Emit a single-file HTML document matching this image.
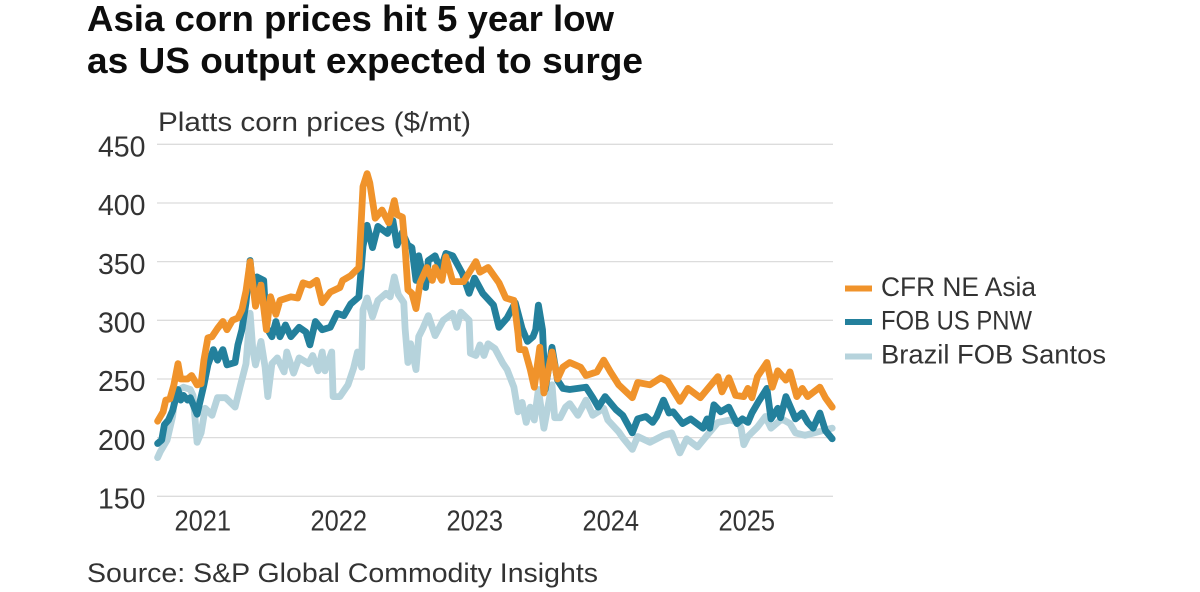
<!DOCTYPE html>
<html lang="en">
<head>
<meta charset="utf-8">
<title>Asia corn prices chart</title>
<style>
html,body{margin:0;padding:0;background:#fff;width:1200px;height:592px;overflow:hidden}
svg{display:block}
text{font-family:"Liberation Sans",sans-serif;fill:#333}
</style>
</head>
<body>
<svg id="chart" width="1200" height="592" viewBox="0 0 1200 592" xmlns="http://www.w3.org/2000/svg">
  <rect width="1200" height="592" fill="#fff"/>
  <text x="87" y="31" font-size="36" font-weight="700" style="fill:#0d0d0d" textLength="527" lengthAdjust="spacingAndGlyphs">Asia corn prices hit 5 year low</text>
  <text x="87" y="73" font-size="36" font-weight="700" style="fill:#0d0d0d" textLength="556" lengthAdjust="spacingAndGlyphs">as US output expected to surge</text>
  <text x="158" y="131" font-size="27" textLength="313" lengthAdjust="spacingAndGlyphs">Platts corn prices ($/mt)</text>
  <g id="grid"></g>
  <g id="yticks"></g>
  <g id="xticks"></g>
  <g id="series"></g>
  <g id="legend">
    <rect x="845" y="285.5" width="27" height="6" fill="#F0932B"/>
    <text x="881" y="296" font-size="27" textLength="155" lengthAdjust="spacingAndGlyphs">CFR NE Asia</text>
    <rect x="845" y="319" width="27" height="6" fill="#23809C"/>
    <text x="881" y="329.5" font-size="27" textLength="151" lengthAdjust="spacingAndGlyphs">FOB US PNW</text>
    <rect x="845" y="353.5" width="27" height="6" fill="#B6D3DC"/>
    <text x="881" y="363.5" font-size="27" textLength="225" lengthAdjust="spacingAndGlyphs">Brazil FOB Santos</text>
  </g>
  <text x="87" y="582" font-size="27" textLength="511" lengthAdjust="spacingAndGlyphs">Source: S&amp;P Global Commodity Insights</text>
</svg>
<script>
const yTickLabels = [150, 200, 250, 300, 350, 400, 450];
const xTickLabels = [2021, 2022, 2023, 2024, 2025];

const cfrDates = [2020.67,2020.71,2020.73,2020.76,2020.79,2020.82,2020.84,2020.89,2020.92,2020.96,2020.99,2021.01,2021.04,2021.07,2021.11,2021.15,2021.18,2021.22,2021.26,2021.29,2021.32,2021.35,2021.39,2021.43,2021.47,2021.50,2021.54,2021.57,2021.65,2021.70,2021.74,2021.79,2021.84,2021.88,2021.94,2022.01,2022.03,2022.09,2022.15,2022.18,2022.21,2022.23,2022.27,2022.32,2022.37,2022.41,2022.43,2022.47,2022.49,2022.51,2022.54,2022.57,2022.60,2022.65,2022.69,2022.71,2022.76,2022.79,2022.84,2022.92,2023.01,2023.04,2023.10,2023.18,2023.23,2023.29,2023.32,2023.33,2023.37,2023.41,2023.44,2023.48,2023.51,2023.57,2023.61,2023.65,2023.70,2023.78,2023.82,2023.90,2023.95,2024.00,2024.06,2024.16,2024.20,2024.29,2024.37,2024.42,2024.51,2024.57,2024.66,2024.71,2024.79,2024.82,2024.87,2024.92,2024.98,2025.01,2025.04,2025.08,2025.15,2025.19,2025.23,2025.29,2025.32,2025.37,2025.41,2025.45,2025.54,2025.58,2025.63];
const cfrValues = [214,222,232,233,245,263,250,250,253,245,246,266,285,286,293,299,292,300,302,309,325,350,312,330,292,320,305,317,320,319,332,330,334,315,324,328,334,338,345,414,425,417,387,394,383,402,390,388,362,326,323,310,332,345,334,345,334,354,333,333,350,341,345,332,319,317,289,275,275,258,243,277,238,273,250,260,264,260,253,256,266,256,245,234,247,245,251,248,231,242,234,241,252,239,251,236,235,242,234,252,264,243,257,249,256,235,242,235,243,234,226];

const pnwDates = [2020.67,2020.70,2020.72,2020.75,2020.78,2020.82,2020.84,2020.86,2020.89,2020.91,2020.96,2021.01,2021.04,2021.08,2021.11,2021.15,2021.18,2021.24,2021.26,2021.29,2021.32,2021.35,2021.37,2021.40,2021.45,2021.47,2021.51,2021.54,2021.57,2021.61,2021.65,2021.71,2021.76,2021.79,2021.83,2021.88,2021.94,2021.99,2022.04,2022.09,2022.15,2022.18,2022.21,2022.25,2022.29,2022.36,2022.40,2022.43,2022.47,2022.51,2022.54,2022.57,2022.59,2022.64,2022.66,2022.71,2022.75,2022.79,2022.84,2022.91,2022.96,2023.00,2023.06,2023.14,2023.18,2023.24,2023.30,2023.35,2023.39,2023.43,2023.45,2023.47,2023.50,2023.52,2023.57,2023.61,2023.65,2023.70,2023.82,2023.87,2023.91,2023.96,2024.04,2024.09,2024.16,2024.20,2024.26,2024.31,2024.34,2024.39,2024.43,2024.46,2024.53,2024.59,2024.68,2024.71,2024.73,2024.76,2024.81,2024.87,2024.93,2024.97,2025.01,2025.04,2025.09,2025.15,2025.18,2025.23,2025.25,2025.29,2025.36,2025.41,2025.45,2025.49,2025.54,2025.58,2025.63];
const pnwValues = [195,198,211,215,223,241,232,236,232,234,220,245,262,275,266,275,262,264,279,292,315,351,326,337,334,294,286,299,286,296,286,294,290,279,299,292,294,306,304,314,320,363,381,362,380,374,385,364,375,364,362,334,355,328,351,355,343,357,355,340,323,336,323,313,294,302,315,293,282,286,292,313,292,241,277,249,242,241,243,234,226,235,224,219,204,216,218,213,218,232,221,222,212,216,208,216,208,228,222,226,212,216,213,221,231,242,216,225,217,235,216,221,213,208,221,206,199];

const santosDates = [2020.67,2020.69,2020.74,2020.78,2020.80,2020.86,2020.91,2020.93,2020.96,2020.99,2021.02,2021.07,2021.11,2021.17,2021.24,2021.28,2021.32,2021.35,2021.37,2021.39,2021.43,2021.46,2021.48,2021.51,2021.55,2021.60,2021.62,2021.67,2021.71,2021.78,2021.81,2021.85,2021.88,2021.90,2021.95,2021.96,2022.01,2022.07,2022.11,2022.14,2022.17,2022.18,2022.21,2022.25,2022.29,2022.35,2022.38,2022.41,2022.44,2022.48,2022.49,2022.51,2022.53,2022.57,2022.59,2022.62,2022.66,2022.71,2022.77,2022.84,2022.87,2022.90,2022.96,2022.97,2023.01,2023.04,2023.07,2023.10,2023.15,2023.21,2023.24,2023.29,2023.32,2023.35,2023.38,2023.41,2023.44,2023.47,2023.51,2023.57,2023.59,2023.63,2023.67,2023.70,2023.76,2023.82,2023.87,2023.95,2023.98,2024.06,2024.09,2024.16,2024.20,2024.29,2024.39,2024.45,2024.51,2024.56,2024.64,2024.71,2024.79,2024.88,2024.94,2024.96,2024.98,2025.01,2025.08,2025.14,2025.18,2025.26,2025.32,2025.36,2025.43,2025.56,2025.63];
const santosValues = [183,188,198,218,239,243,241,236,196,204,225,219,234,234,226,245,263,306,275,262,282,260,235,263,268,256,273,255,268,263,270,257,273,257,273,235,235,245,259,273,260,309,319,303,317,323,320,337,322,315,293,264,280,258,286,293,304,287,300,306,294,307,300,272,270,279,270,280,276,263,258,243,222,230,213,226,215,241,208,245,217,217,226,229,219,232,219,225,215,205,200,190,201,196,202,204,187,199,192,202,213,215,213,208,194,201,209,218,208,216,212,204,202,206,208];

const NS = 'http://www.w3.org/2000/svg';
const xScale = function (year) { return 202.5 + (year - 2021) * 136; };
const yScale = function (price) { return 496.3 - (price - 150) * 1.1733; };

const gridG = document.getElementById('grid');
const yG = document.getElementById('yticks');
const xG = document.getElementById('xticks');
const seriesG = document.getElementById('series');

yTickLabels.forEach(function (v) {
  const line = document.createElementNS(NS, 'line');
  line.setAttribute('x1', 157);
  line.setAttribute('x2', 833);
  line.setAttribute('y1', yScale(v));
  line.setAttribute('y2', yScale(v));
  line.setAttribute('stroke', '#dcdcdc');
  line.setAttribute('stroke-width', '1.3');
  
  
  gridG.appendChild(line);

  const t = document.createElementNS(NS, 'text');
  t.setAttribute('x', 145.5);
  t.setAttribute('y', yScale(v) + 12.2);
  t.setAttribute('text-anchor', 'end');
  t.setAttribute('font-size', '28.5');
  t.textContent = v;
  
  
  yG.appendChild(t);
});

xTickLabels.forEach(function (y) {
  const t = document.createElementNS(NS, 'text');
  t.setAttribute('x', xScale(y) - 28);
  t.setAttribute('y', 530.7);
  t.setAttribute('font-size', '28.5');
  t.setAttribute('textLength', '56.5');
  t.setAttribute('lengthAdjust', 'spacingAndGlyphs');
  t.textContent = y;
  
  
  xG.appendChild(t);
});

function drawSeries(dates, values, color, name) {
  const pts = dates.map(function (d, i) {
    return xScale(d).toFixed(1) + ',' + yScale(values[i]).toFixed(1);
  }).join(' ');
  const p = document.createElementNS(NS, 'polyline');
  p.setAttribute('points', pts);
  p.setAttribute('fill', 'none');
  p.setAttribute('stroke', color);
  p.setAttribute('stroke-width', '6.8');
  p.setAttribute('stroke-linejoin', 'round');
  p.setAttribute('stroke-linecap', 'round');
  
  
  seriesG.appendChild(p);
}

drawSeries(santosDates, santosValues, '#B6D3DC', 'line-brazil-fob-santos');
drawSeries(pnwDates, pnwValues, '#23809C', 'line-fob-us-pnw');
drawSeries(cfrDates, cfrValues, '#F0932B', 'line-cfr-ne-asia');
</script>
</body>
</html>
